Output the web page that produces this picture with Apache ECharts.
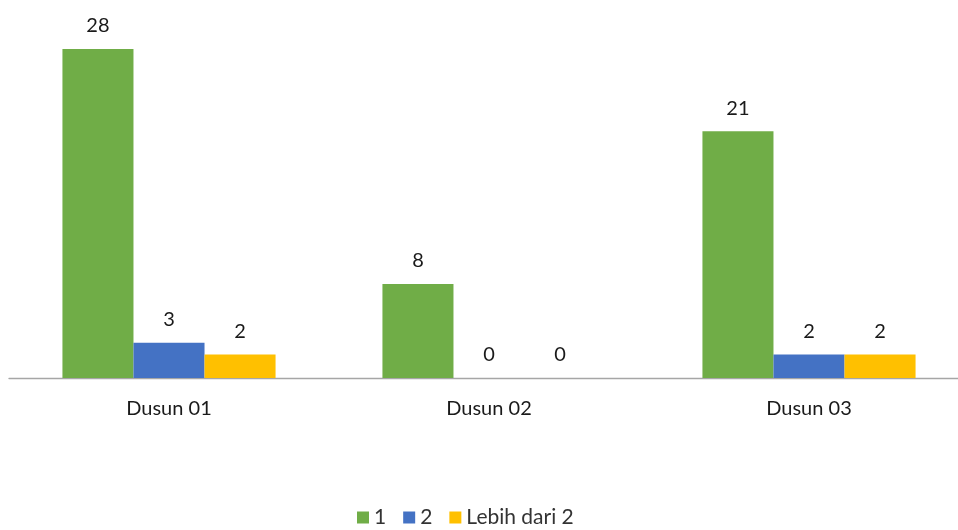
<!DOCTYPE html>
<html>
<head>
<meta charset="utf-8">
<script src="https://cdn.jsdelivr.net/npm/echarts@6/dist/echarts.min.js"></script>
<style>
  html, body { margin: 0; padding: 0; background: #fff; }
  #chart { width: 958px; height: 530px; }
</style>
</head>
<body>
<div id="chart"></div>
<script>
const categories = ['Dusun 01', 'Dusun 02', 'Dusun 03']
const seriesNames = ['1', '2', 'Lebih dari 2']
const values1 = [28, 8, 21]
const values2 = [3, 0, 2]
const valuesMore = [2, 0, 2]

const colors = ['#70AD47', '#4472C4', '#FFC000']
const font = 'Lato, "Open Sans", sans-serif'

const chart = echarts.init(document.getElementById('chart'))

const label = {
  show: true,
  position: 'top',
  distance: 13,
  color: '#1a1a1a',
  fontSize: 20,
  fontFamily: font,
}

chart.setOption({
  animation: false,
  color: colors,
  textStyle: { fontFamily: font },
  legend: {
    data: seriesNames,
    top: 507,
    left: 357,
    padding: 0,
    itemWidth: 12,
    itemHeight: 12,
    itemGap: 17,
    icon: 'rect',
    textStyle: { color: '#333', fontSize: 21, fontFamily: font },
  },
  grid: { left: 9, width: 960, top: 25.5, height: 352.5, outerBoundsMode: 'none' },
  xAxis: {
    type: 'category',
    data: categories,
    axisLine: { lineStyle: { color: '#A6A6A6', width: 1.3 } },
    axisTick: { show: false },
    axisLabel: { color: '#1a1a1a', fontSize: 20, fontFamily: font, margin: 21 },
  },
  yAxis: {
    type: 'value',
    min: 0,
    max: 30,
    show: false,
    splitLine: { show: false },
  },
  series: [
    { name: seriesNames[0], type: 'bar', data: values1, barWidth: '22.2%', barGap: '0%', label },
    { name: seriesNames[1], type: 'bar', data: values2, barWidth: '22.2%', barGap: '0%', label },
    { name: seriesNames[2], type: 'bar', data: valuesMore, barWidth: '22.2%', barGap: '0%', label },
  ],
})
</script>
</body>
</html>
